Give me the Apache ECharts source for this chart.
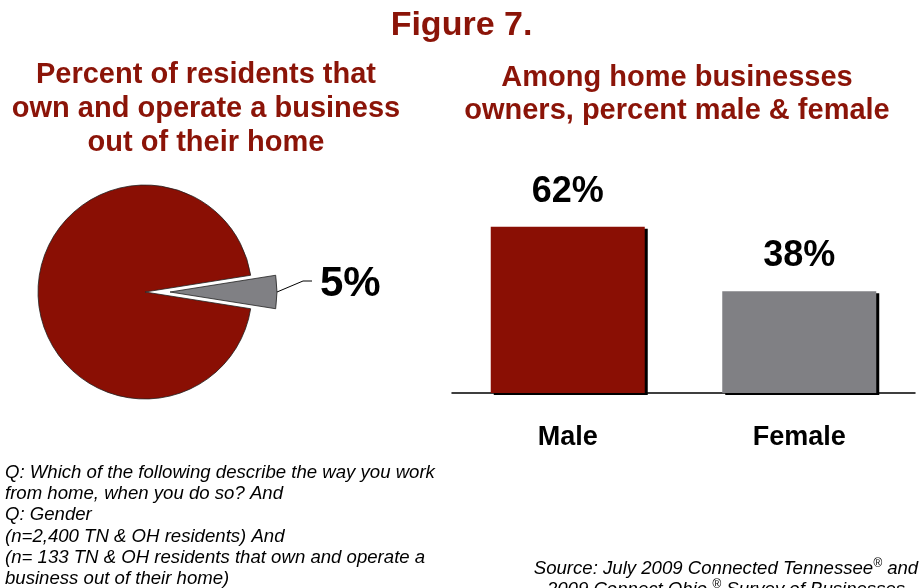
<!DOCTYPE html>
<html>
<head>
<meta charset="utf-8">
<script src="https://cdn.jsdelivr.net/npm/echarts@6/dist/echarts.min.js"></script>
<style>
  html, body { margin: 0; padding: 0; background: #fff; }
  #chart { width: 923px; height: 588px; }
</style>
</head>
<body>
<div id="chart"></div>
<script>
// Share of residents running a business from home
const pieNames = ['Home business', 'Other residents'];
const pieValues = [5, 95];

// Gender split among home business owners
const genderCategories = ['Male', 'Female'];
const genderValues = [62, 38];

const RED = '#8a0f04';
const GRAY = '#808084';
const TITLE_RED = '#8b1408';
const FONT = '"Liberation Sans", Arial, sans-serif';

const chart = echarts.init(document.getElementById('chart'));

chart.setOption({
  animation: false,
  backgroundColor: '#ffffff',
  textStyle: { fontFamily: FONT },
  title: [
    {
      text: 'Figure 7.',
      left: 'center', top: 9, padding: 0,
      textStyle: { fontFamily: FONT, fontSize: 34, fontWeight: 'bold', color: TITLE_RED }
    },
    {
      text: 'Percent of residents that\nown and operate a business\nout of their home',
      left: 206, top: 58, textAlign: 'center', padding: 0,
      textStyle: { fontFamily: FONT, fontSize: 29, fontWeight: 'bold', color: TITLE_RED, lineHeight: 34, align: 'center' }
    },
    {
      text: 'Among home businesses\nowners, percent male & female',
      left: 677, top: 61, textAlign: 'center', padding: 0,
      textStyle: { fontFamily: FONT, fontSize: 29, fontWeight: 'bold', color: TITLE_RED, lineHeight: 33, align: 'center' }
    },
    {
      text: 'Q: Which of the following describe the way you work\nfrom home, when you do so? And\nQ: Gender\n(n=2,400 TN & OH residents) And\n(n= 133 TN & OH residents that own and operate a\nbusiness out of their home)',
      left: 5, top: 462, padding: 0,
      textStyle: { fontFamily: FONT, fontSize: 18.6, fontStyle: 'italic', fontWeight: 'normal', color: '#000', lineHeight: 21.3 }
    },
    {
      text: 'Source: July 2009 Connected Tennessee{sup|®} and\n2009 Connect Ohio {sup|®} Survey of Businesses',
      left: 726, top: 558, textAlign: 'center', padding: 0,
      textStyle: {
        fontFamily: FONT, fontSize: 18.6, fontStyle: 'italic', fontWeight: 'normal', color: '#000', lineHeight: 21, align: 'center',
        rich: {
          sup: { fontFamily: FONT, fontSize: 12, fontStyle: 'italic', color: '#000', verticalAlign: 'top', lineHeight: 21 }
        }
      }
    }
  ],
  grid: { left: 452, right: 8, top: 125, bottom: 195, containLabel: false },
  xAxis: {
    type: 'category',
    data: genderCategories,
    axisLine: { show: true, lineStyle: { color: '#000', width: 1.5 } },
    axisTick: { show: false },
    axisLabel: { margin: 31, fontFamily: FONT, fontSize: 27, fontWeight: 'bold', color: '#000' }
  },
  yAxis: {
    type: 'value', min: 0, max: 100,
    show: false,
    splitLine: { show: false }
  },
  series: [
    {
      type: 'pie',
      center: [145, 292],
      radius: [0, 107],
      startAngle: 9,
      clockwise: true,
      selectedMode: 'single',
      selectedOffset: 25,
      emphasis: { disabled: true },
      // raise the callout: the leader line bends upward into the label
      labelLayout: function (params) {
        const pts = params.labelLinePoints;
        if (!pts) return {};
        return {
          dx: 5,
          dy: -8,
          labelLinePoints: [
            pts[0],
            [pts[1][0], pts[1][1] - 11],
            [pts[2][0] + 2, pts[2][1] - 11]
          ]
        };
      },
      data: pieNames.map((n, i) => ({
        name: n,
        value: pieValues[i],
        selected: i === 0,
        itemStyle: { color: i === 0 ? GRAY : RED, borderColor: '#222', borderWidth: 0.8 },
        label: i === 0
          ? { show: true, formatter: '{c}%', fontFamily: FONT, fontSize: 42, fontWeight: 'bold', color: '#000' }
          : { show: false },
        labelLine: i === 0
          ? { show: true, length: 26, length2: 7, lineStyle: { color: '#000', width: 1 } }
          : { show: false }
      }))
    },
    {
      type: 'bar',
      data: genderValues.map((v, i) => ({
        value: v,
        itemStyle: { color: i === 0 ? RED : GRAY }
      })),
      barWidth: 154,
      itemStyle: {
        shadowColor: '#000', shadowOffsetX: 3, shadowOffsetY: 2, shadowBlur: 0
      },
      label: {
        show: true, position: 'top', distance: 17,
        formatter: '{c}%',
        fontFamily: FONT, fontSize: 36, fontWeight: 'bold', color: '#000'
      },
      emphasis: { disabled: true }
    }
  ]
});
</script>
</body>
</html>
